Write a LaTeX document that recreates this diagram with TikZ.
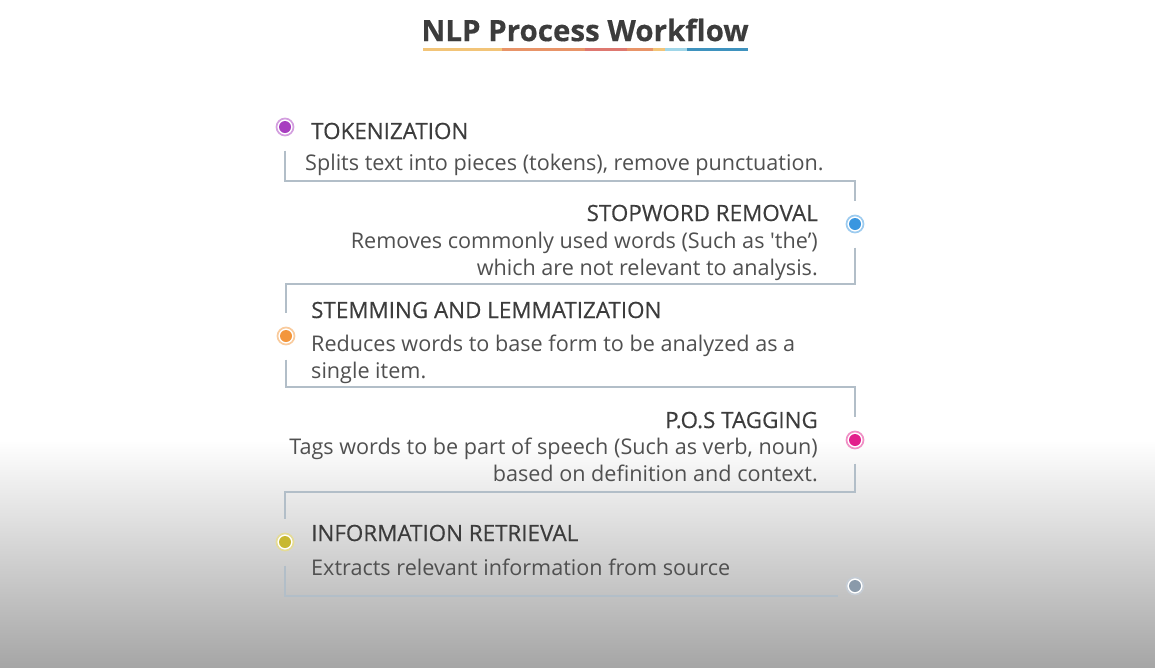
\documentclass[tikz,border=0pt]{standalone}
\usepackage{fontspec}
\setmainfont{Open Sans}
\definecolor{inkgray}{RGB}{60,60,60}
\definecolor{textgray}{RGB}{80,80,80}
\definecolor{trackgray}{RGB}{178,190,200}
\definecolor{ulyellow}{RGB}{242,196,120}
\definecolor{ulorange}{RGB}{232,148,104}
\definecolor{ulred}{RGB}{222,120,112}
\definecolor{ulsky}{RGB}{160,214,232}
\definecolor{ulblue}{RGB}{62,146,190}
\definecolor{dotpurple}{RGB}{168,62,192}
\definecolor{dotblue}{RGB}{58,150,224}
\definecolor{dotorange}{RGB}{243,150,60}
\definecolor{dotpink}{RGB}{226,32,140}
\definecolor{dotolive}{RGB}{200,184,48}
\definecolor{dotgray}{RGB}{138,154,170}
\usetikzlibrary{calc}

\begin{document}
\begin{tikzpicture}[x=1pt,y=-1pt,
  head/.style={font=\fontsize{22.4}{27}\selectfont\addfontfeature{FakeBold=0.35},text=inkgray,inner sep=0},
  desc/.style={font=\fontsize{21.6}{26.5}\selectfont,text=textgray,inner sep=0},
  dot/.style={circle,minimum size=17pt,inner sep=0,draw=#1!50,line width=1.7pt,
              fill=white,outer sep=15pt,
              path picture={\fill[#1] (path picture bounding box.center) circle (6pt);}},
  track/.style={draw=trackgray,line width=2.4pt}]
  % page and background fade
  \useasboundingbox (0,0) rectangle (1155,667);
  \fill[white] (0,0) rectangle (1155,667);
  \shade[top color=white,middle color=black!12,bottom color=black!35] (0,440) rectangle (1155,667);

  % title with coloured underline
  \node[font=\fontsize{29.5}{34}\selectfont\bfseries\addfontfeature{FakeBold=0.3},text=inkgray] (title) at (585,30) {NLP Process Workflow};
  \foreach \xa/\xb/\col in {423/502/ulyellow,502/585/ulorange,585/627/ulred,627/653/ulorange,
                            653/665/ulyellow,665/687/ulsky,687/748/ulblue}
    \draw[\col,line width=3pt] (\xa,49) -- (\xb,49);

  % step markers
  \node[dot=dotpurple] (d1) at (285,127) {};
  \node[dot=dotblue]   (d2) at (855,224) {};
  \node[dot=dotorange] (d3) at (286,336) {};
  \node[dot=dotpink]   (d4) at (855,440) {};
  \node[dot=dotolive]  (d5) at (285,542) {};
  \node[dot=dotgray,outer sep=9pt] (d6) at (855,586) {};

  % turning levels of the track
  \coordinate (r1) at (570,181);
  \coordinate (r2) at (570,284);
  \coordinate (r3) at (570,387);
  \coordinate (r4) at (570,492);
  \coordinate (r5) at (570,596);

  \draw[track] (d1) -- (d1 |- r1) -- (d2 |- r1) -- (d2);
  \draw[track] (d2) -- (d2 |- r2) -- (d3 |- r2) -- (d3);
  \draw[track] (d3) -- (d3 |- r3) -- (d4 |- r3) -- (d4);
  \draw[track] (d4) -- (d4 |- r4) -- (d5 |- r4) -- (d5);
  \draw[track] (d5) -- (d5 |- r5) -- (d6.west |- r5);

  % steps (a multi-line node sits on its last baseline)
  \node[head,anchor=base west] (h1) at (311,139) {TOKENIZATION};
  \node[desc,anchor=base west] (t1) at (305,170) {Splits text into pieces (tokens), remove punctuation.};

  \node[head,anchor=base east] (h2) at (818,221) {STOPWORD REMOVAL};
  \node[desc,anchor=base east,align=right] (t2) at (818,275)
    {Removes commonly used words (Such as \textquotesingle the’)\\which are not relevant to analysis.};

  \node[head,anchor=base west] (h3) at (311,318) {STEMMING AND LEMMATIZATION};
  \node[desc,anchor=base west,align=left] (t3) at (311,378)
    {Reduces words to base form to be analyzed as a\\single item.};

  \node[head,anchor=base east] (h4) at (818,428) {P.O.S TAGGING};
  \node[desc,anchor=base east,align=right] (t4) at (818,481)
    {Tags words to be part of speech (Such as verb, noun)\\based on definition and context.};

  \node[head,anchor=base west] (h5) at (311,541) {INFORMATION RETRIEVAL};
  \node[desc,anchor=base west] (t5) at (311,575) {Extracts relevant information from source};
\end{tikzpicture}
\end{document}
